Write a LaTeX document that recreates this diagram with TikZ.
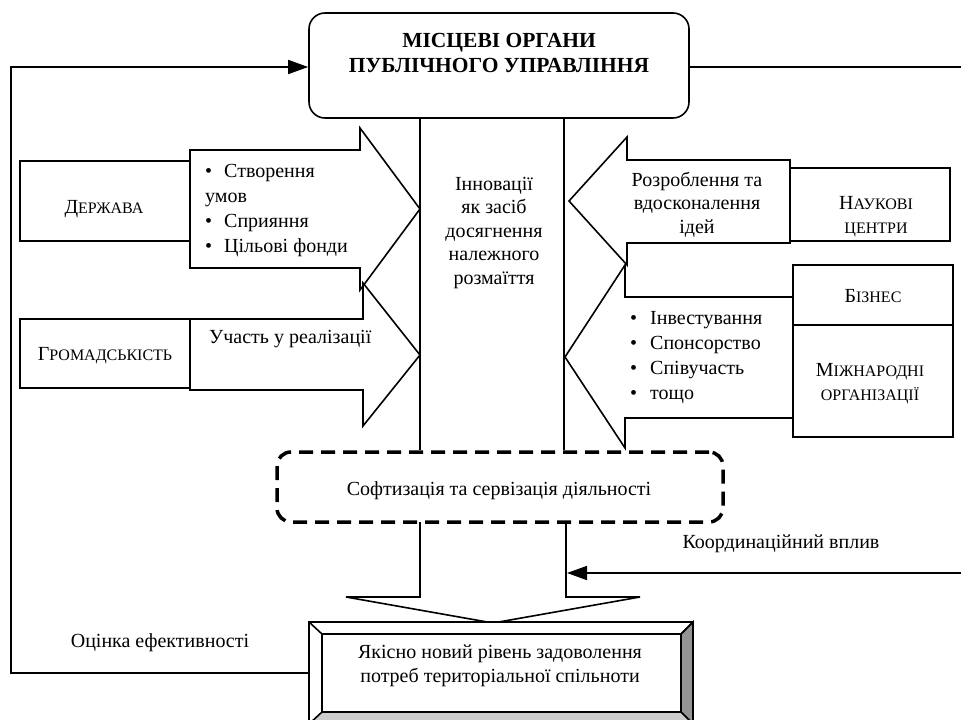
\documentclass[tikz,border=0pt]{standalone}
\usepackage{fontspec}
\setmainfont{Liberation Serif}
\usetikzlibrary{arrows.meta,calc}
\newcommand\sck[1]{{\fontsize{16}{18}\selectfont #1}}
\begin{document}
\begin{tikzpicture}[x=1pt,y=-1pt,line join=miter,
  ln/.style={draw=black,line width=1.6pt},
  shp/.style={draw=black,line width=1.6pt,fill=white},
  col/.style={draw=black,line width=2.4pt},
  txt/.style={font=\fontsize{20}{23.5}\selectfont,inner sep=0pt,align=center,anchor=base},
  lst/.style={font=\fontsize{20}{25}\selectfont,inner sep=0pt,align=left,anchor=base west},
  boxn/.style={draw=black,line width=1.6pt,inner sep=0pt,fill=white},
  fb/.style={draw=black,line width=1.6pt,-{Triangle[length=20pt,width=14pt]}},
]
\useasboundingbox (0,0) rectangle (961,720);
\clip (0,0) rectangle (961,720);

% top box
\node[boxn,rounded corners=16pt,minimum width=380pt,minimum height=105pt] (top) at (499,65.5) {};
\node[txt,font=\fontsize{21.5}{25}\selectfont\bfseries] (toptxt) at (499,72) {МІСЦЕВІ ОРГАНИ\\ПУБЛІЧНОГО УПРАВЛІННЯ};

% central column
\draw[col] (420,118) -- (420,450);
\draw[col] (564,118) -- (564,450);
\node[txt] (inn) at (494,284) {Інновації\\як засіб\\досягнення\\належного\\розмаїття};

% left arrows
\path[shp] (190,150) -- (360,150) -- (360,128) -- (420,209) -- (360,290) -- (360,268) -- (190,268) -- cycle;
\path[shp] (190,319) -- (363,319) -- (363,283) -- (420,355) -- (363,426) -- (363,390) -- (190,390) -- cycle;
\node[boxn,minimum width=170pt,minimum height=80pt] (der) at (105,201) {};
\node[txt] (dertxt) at (104,213) {Д\sck{ЕРЖАВА}};
\node[boxn,minimum width=170pt,minimum height=69pt] (grom) at (105,353.5) {};
\node[txt] (gromtxt) at (105,360) {Г\sck{РОМАДСЬКІСТЬ}};
\node[lst] (l1) at (205,252) {\textbullet\hspace{12pt}Створення\\умов\\\textbullet\hspace{12pt}Сприяння\\\textbullet\hspace{12pt}Цільові фонди};
\node[lst] (l2) at (209,343) {Участь у реалізації};

% right arrows
\path[shp] (790,160) -- (627,160) -- (627,137) -- (569,201) -- (627,265) -- (627,243) -- (790,243) -- cycle;
\path[shp] (793,297) -- (625,297) -- (625,265) -- (565,357) -- (625,448) -- (625,418) -- (793,418) -- cycle;
\node[boxn,minimum width=160pt,minimum height=73pt] (nauk) at (870,204.5) {};
\node[txt] (nauktxt) at (876,233) {Н\sck{АУКОВІ}\\\sck{ЦЕНТРИ}};
\node[boxn,minimum width=160pt,minimum height=60pt] (biz) at (873,295) {};
\node[txt] (biztxt) at (873,302) {Б\sck{ІЗНЕС}};
\node[boxn,minimum width=160pt,minimum height=112pt] (mizh) at (873,381) {};
\node[txt] (mizhtxt) at (870,400) {М\sck{ІЖНАРОДНІ}\\\sck{ОРГАНІЗАЦІЇ}};
\node[txt] (rozr) at (697,233) {Розроблення та\\вдосконалення\\ідей};
\node[lst] (r1) at (630,399) {\textbullet\hspace{13pt}Інвестування\\\textbullet\hspace{13pt}Спонсорство\\\textbullet\hspace{13pt}Співучасть\\\textbullet\hspace{13pt}тощо};

% dashed box
\node[draw=black,line width=3.5pt,dash pattern=on 14pt off 8pt,rounded corners=14pt,
      minimum width=446pt,minimum height=70pt,inner sep=0pt] (soft) at (500,487) {};
\node[txt] (softtxt) at (499,495) {Софтизація та сервізація діяльності};

% down arrow
\path[ln] (420,522) -- (420,597) -- (346,597) -- (493,623) -- (640,597) -- (566,597) -- (566,522);

% bottom bevel box
\node[boxn,minimum width=384pt,minimum height=102pt] (bot) at (501,673) {};
\filldraw[line width=1.6pt,fill=black!42] (693,622) -- (693,724) -- (681,712) -- (681,634) -- cycle;
\filldraw[line width=1.6pt,fill=black!20] (309,724) -- (693,724) -- (681,712) -- (322,712) -- cycle;
\draw[line width=1.6pt] (309,622) -- (322,634) (693,622) -- (681,634);
\draw[line width=1.6pt] (322,634) rectangle (681,712);
\node[txt] (bottxt) at (500,682) {Якісно новий рівень задоволення\\потреб територіальної спільноти};

% feedback and coordination
\draw[fb] (bot.west) -- ++(-297,0) |- ([yshift=-1.5pt]top.west);
\coordinate (re) at (961,67);
\draw[ln] ([yshift=-1.5pt]top.east) -- (re);
\coordinate (ce) at (961,573);
\coordinate (ct) at (567,573);
\draw[fb] (ce) -- (ct);
\node[txt] (koord) at (781,548) {Координаційний вплив};
\node[txt] (ocin) at (160,647) {Оцінка ефективності};
\end{tikzpicture}
\end{document}
